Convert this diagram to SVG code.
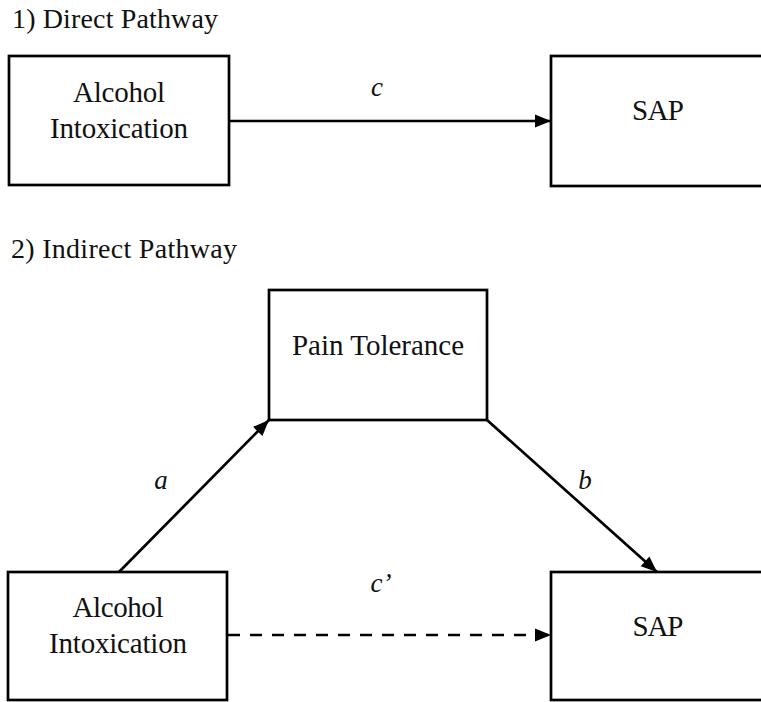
<svg xmlns="http://www.w3.org/2000/svg" width="761" height="702" viewBox="0 0 761 702">
  <style>
    text { font-family: "Liberation Serif", "Times New Roman", "DejaVu Serif", serif; fill: #111111; }
    .box { fill: #ffffff; stroke: #000000; stroke-width: 2.7; }
    .lbl { font-size: 29px; text-anchor: middle; }
    .title { font-size: 28px; }
    .path { font-size: 27px; font-style: italic; text-anchor: middle; }
    .edge { fill: none; stroke: #000000; stroke-width: 2.7; }
    .dash { stroke-dasharray: 12 10; }
  </style>
  <defs>
    <marker id="arrow" markerUnits="userSpaceOnUse" markerWidth="16" markerHeight="13" refX="16" refY="6.5" orient="auto" overflow="visible">
      <path d="M0,0 L16,6.5 L0,13 Z" fill="#000000" stroke="none"/>
    </marker>
  </defs>
  <rect width="761" height="702" fill="#ffffff"/>

  <g font-family="Liberation Serif, Times New Roman, serif">
  <text class="title" x="12" y="28" textLength="206">1) Direct Pathway</text>
  <text class="title" x="11" y="258" textLength="226">2) Indirect Pathway</text>

  <g id="connectors">
    <line class="edge" x1="229" y1="121" x2="551" y2="121" marker-end="url(#arrow)"/>
    <text class="path" x="377" y="96">c</text>
    <line class="edge" x1="119" y1="572" x2="269" y2="420" marker-end="url(#arrow)"/>
    <text class="path" x="161" y="489">a</text>
    <line class="edge" x1="487" y1="420" x2="657" y2="572" marker-end="url(#arrow)"/>
    <text class="path" x="585" y="489">b</text>
    <line class="edge dash" x1="228" y1="635" x2="551" y2="635" marker-end="url(#arrow)"/>
    <text class="path" x="381" y="592">c’</text>
  </g>

  <g id="direct-alcohol">
    <rect class="box" x="9" y="56" width="220" height="129"/>
    <text class="lbl" x="119" y="102" textLength="92">Alcohol</text>
    <text class="lbl" x="119" y="138" textLength="138">Intoxication</text>
  </g>
  <g id="direct-sap">
    <rect class="box" x="551" y="56" width="219" height="130"/>
    <text class="lbl" x="658" y="120" textLength="52">SAP</text>
  </g>

  <g id="pain-tolerance">
    <rect class="box" x="269" y="290" width="218" height="130"/>
    <text class="lbl" x="378" y="355" textLength="172">Pain Tolerance</text>
  </g>
  <g id="indirect-alcohol">
    <rect class="box" x="8" y="572" width="219" height="128"/>
    <text class="lbl" x="118" y="617" textLength="91">Alcohol</text>
    <text class="lbl" x="118" y="653" textLength="138">Intoxication</text>
  </g>
  <g id="indirect-sap">
    <rect class="box" x="551" y="572" width="219" height="128"/>
    <text class="lbl" x="658" y="636" textLength="51">SAP</text>
  </g>
  </g>
</svg>
